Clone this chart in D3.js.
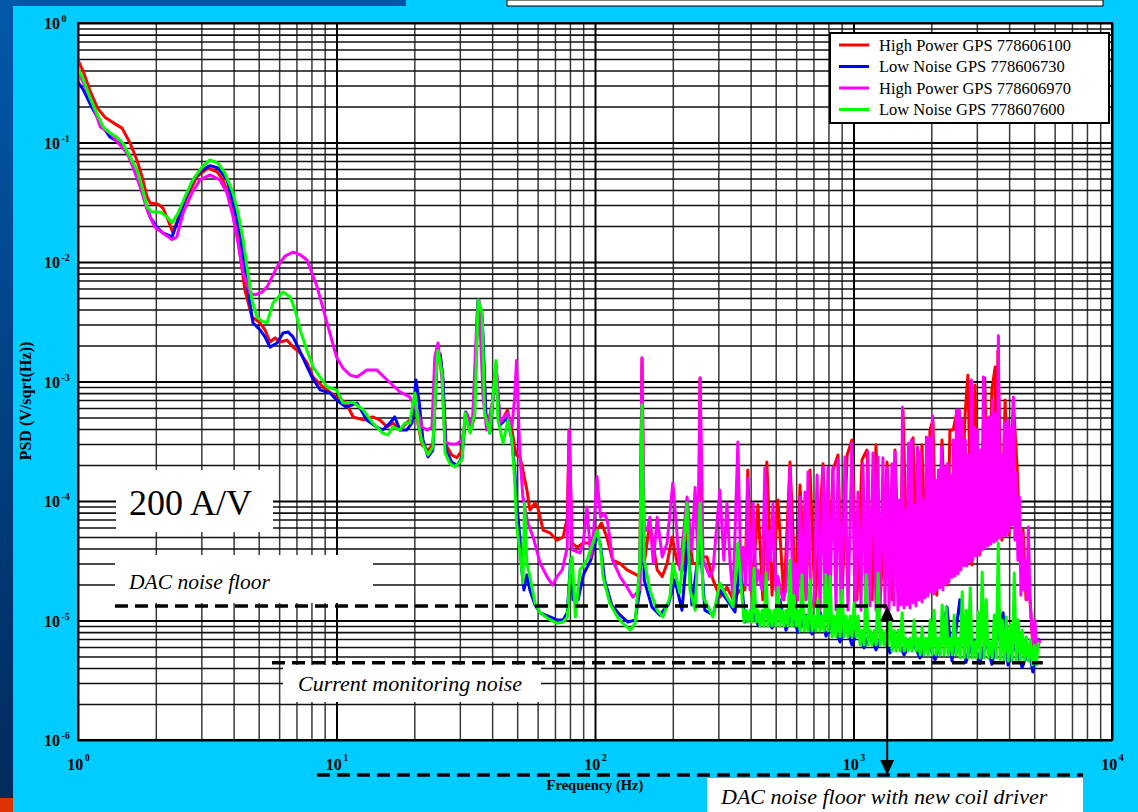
<!DOCTYPE html>
<html>
<head>
<meta charset="utf-8">
<script src="https://cdn.jsdelivr.net/npm/d3@7"></script>
<style>
  html, body { margin: 0; padding: 0; background: #00ccff; overflow: hidden; }
  svg { display: block; }
  text { font-family: "Liberation Serif", "Times New Roman", Times, serif; fill: #000; }
</style>
</head>
<body>
<svg id="chart" width="1138" height="812"></svg>
<script>
// PSD traces: [frequency (Hz), PSD (V/sqrt(Hz))]
var redHP1 = [
  [1.0,0.49],[1.05,0.39],[1.11,0.275],[1.19,0.194],[1.27,0.163],[1.37,0.146],[1.48,0.132],[1.59,0.099],
  [1.69,0.071],[1.77,0.0515],[1.85,0.035],[1.9,0.0312],[2.04,0.0305],[2.13,0.0283],[2.23,0.0225],[2.33,0.0175],
  [2.48,0.0257],[2.64,0.035],[2.88,0.0515],[3.18,0.0612],[3.45,0.0567],[3.64,0.0486],[3.87,0.033],[4.05,0.0225],
  [4.23,0.0119],[4.42,0.00584],[4.71,0.00347],[5.06,0.0031],[5.29,0.0027],[5.53,0.00214],[5.79,0.00232],[6.05,0.00214],
  [6.43,0.00222],[6.79,0.00194],[7.23,0.00174],[7.69,0.00143],[8.11,0.00109],[8.87,0.0009],[10.0,0.00074],[10.9,0.00066],
  [11.6,0.000505],[12.7,0.000477],[13.8,0.000505],[14.7,0.000477],[15.7,0.000416],[16.5,0.00045],[17.6,0.000393],[18.7,0.00045],
  [19.6,0.000496],[20.1,0.0007],[20.7,0.000433],[21.4,0.000295],[22.6,0.000267],[23.6,0.000295],[24.5,0.0015],[25.2,0.00167],
  [25.8,0.00102],[26.5,0.000295],[27.9,0.000243],[29.2,0.00023],[30.6,0.000267],[31.6,0.000525],[32.9,0.000393],[34.0,0.000477],
  [35.3,0.00463],[36.6,0.00327],[37.8,0.000525],[39.2,0.000393],[41.4,0.00137],[42.9,0.000433],[45.8,0.000577],[47.7,0.000393],
  [49.5,0.000243],[51.2,0.000234],[52.6,0.000182],[54.5,0.000124],[56.0,8.4e-5],[58.6,9.6e-5],[60.0,8.9e-5],[63.0,5.7e-5],
  [67.0,5.4e-5],[71.3,4.7e-5],[75.3,5.0e-5],[78.1,7.2e-5],[79.4,3.93e-4],[81.6,4.45e-5],[85.3,4.1e-5],[90.1,4.45e-5],
  [96.3,4.45e-5],[101.8,5.7e-5],[106,6.55e-5],[111,5.0e-5],[117,3.2e-5],[125,3.0e-5],[133,2.65e-5],[140,2.5e-5],
  [149,2.33e-5],[152,1.57e-3],[155,3.0e-5],[163,6.55e-5],[174,2.65e-5],[182,2.33e-5],[190,3.0e-5],[199,5.0e-5],
  [208,3.0e-5],[219,2.65e-5],[229,5.7e-5],[239,3.0e-5],[251,3.0e-5],[255,1.07e-3],[260,3.4e-5],[271,3.4e-5],
  [286,2.2e-5],[304,1.57e-5],[324,1.9e-5],[342,1.5e-5],[364,1.8e-5],
  [380,1.8e-5],[390,1.82e-4],[405,1.63e-5],[427,9.3e-5],[446,1.49e-5],[462,2.12e-4],[484,1.63e-5],[510,1.02e-4],
  [538,1.49e-5],[568,2.12e-4],[599,1.49e-5],[621,1.36e-4],[655,1.49e-5],[679,1.82e-4],[710,1.35e-5],[762,2.05e-4],
  [797,1.49e-5],[833,1.82e-4],[871,2.43e-4],[903,1.49e-5],[945,2.43e-4],[986,3.24e-4],[1031,1.49e-5],[1079,2.22e-4],
  [1127,2.67e-4],[1179,1.49e-5],[1222,2.95e-4],[1266,1.35e-5],[1348,2.12e-4],[1409,1.49e-5],[1447,2.67e-4],[1513,1.49e-5],
  [1554,5.77e-4],[1625,1.54e-5],[1699,3.38e-4],[1776,1.63e-5],[1840,2.95e-4],[1924,1.63e-5],[1976,3.93e-4],[2030,4.77e-4],
  [2100,1.63e-5],[2200,3.24e-4],[2300,1.98e-5],[2360,3.93e-4],[2430,3.93e-4],[2520,5.77e-4],[2580,2.65e-5],[2700,5.2e-4],
  [2770,1.13e-3],[2870,2.92e-5],[2950,9.35e-4],[3080,3.54e-5],[3220,1.07e-3],[3310,4.28e-5],[3430,8.5e-4],[3530,1.32e-3],
  [3560,4.7e-5],[3620,1.82e-3],[3750,4.7e-5],[3860,7.0e-4],[4000,5.2e-5],[4150,7.0e-4],[4300,1.82e-4],[4410,4.28e-5],
  [4530,5.7e-5],[4650,1.49e-5],[4810,1.57e-5],[4940,6.24e-6],[5120,5.9e-6],[5260,6.87e-6]
];

var blueLN1 = [
  [1.0,0.32],[1.05,0.275],[1.13,0.198],[1.22,0.146],[1.33,0.111],[1.45,0.099],[1.59,0.0756],[1.69,0.0555],
  [1.78,0.0378],[1.9,0.0238],[2.02,0.0196],[2.13,0.0175],[2.31,0.0162],[2.44,0.0225],[2.59,0.033],[2.78,0.0486],
  [3.02,0.0589],[3.24,0.064],[3.48,0.0612],[3.77,0.0486],[3.98,0.0312],[4.23,0.0175],[4.42,0.0091],[4.54,0.00584],
  [4.75,0.0031],[5.06,0.0027],[5.29,0.00236],[5.53,0.00194],[5.89,0.0021],[6.21,0.00255],[6.49,0.0026],[6.79,0.00236],
  [7.1,0.00194],[7.57,0.00143],[8.04,0.00109],[8.64,0.00085],[9.45,0.0008],[10.0,0.0007],[10.9,0.00061],[12.0,0.00066],
  [13.1,0.000477],[14.3,0.000416],[15.1,0.000393],[16.1,0.00045],[16.8,0.000505],[17.6,0.000393],[18.7,0.000393],[19.6,0.00045],
  [20.3,0.00103],[20.9,0.00066],[21.6,0.000324],[22.6,0.000234],[23.6,0.000267],[24.5,0.00182],[25.2,0.00167],[25.8,0.00107],
  [26.5,0.000267],[27.9,0.000212],[29.2,0.000199],[30.6,0.00023],[31.6,0.000555],[32.9,0.000378],[34.0,0.00052],[35.3,0.0048],
  [36.6,0.0036],[37.8,0.000545],[39.2,0.00037],[41.4,0.00137],[42.9,0.000433],[45.8,0.000496],[47.7,0.000324],[48.9,0.000182],
  [49.7,0.000102],[51.3,4.7e-5],[52.1,2.65e-5],[53.1,1.8e-5],[54.5,2.41e-5],[56.0,1.8e-5],[58.6,1.35e-5],[61.3,1.16e-5],
  [67.0,1.07e-5],[71.3,1.01e-5],[75.3,1.01e-5],[78.1,1.16e-5],[80.5,3.2e-5],[82.3,1.49e-5],[86.1,1.49e-5],[90.1,2.41e-5],
  [96.3,3.2e-5],[101.8,5.2e-5],[105,4.28e-5],[109,2.18e-5],[116,1.35e-5],[125,1.11e-5],[134,9.7e-6],[143,1.01e-5],
  [149,1.8e-5],[152,4.77e-4],[155,2.18e-5],[166,1.3e-5],[178,1.11e-5],[192,1.35e-5],[204,2.18e-5],[217,1.22e-5],
  [229,4.7e-5],[237,1.35e-5],[255,4.7e-5],[266,1.22e-5],[286,1.11e-5],[304,1.8e-5],[324,1.49e-5],[348,1.18e-5],
  [364,3.2e-5],
  [380,9.7e-6],[405,1.18e-5],[427,9.2e-6],[458,1.22e-5],[484,8.65e-6],[519,1.49e-5],[548,8.3e-6],[578,1.11e-5],
  [610,8.0e-6],[655,1.11e-5],[691,7.7e-6],[742,1.18e-5],[783,7.4e-6],[833,1.01e-5],[887,6.6e-6],[935,9.2e-6],
  [986,6.24e-6],[1041,8.3e-6],[1098,5.9e-6],[1158,8.0e-6],[1222,5.67e-6],[1300,7.6e-6],[1384,5.35e-6],[1473,7.1e-6],
  [1568,5.15e-6],[1684,6.87e-6],[1808,4.86e-6],[1941,6.6e-6],[2067,4.67e-6],[2180,6.87e-6],[2300,1.3e-5],[2405,4.58e-6],
  [2580,1.49e-5],[2720,4.45e-6],[2920,6.87e-6],[3080,4.37e-6],[3250,6.87e-6],[3430,4.3e-6],[3790,1.16e-5],[3960,4.24e-6],
  [4220,6.24e-6],[4490,4.05e-6],[4770,5.67e-6],[4940,3.7e-6],[5070,5.67e-6],[5220,7.1e-6]
];

var magentaHP2 = [
  [1.0,0.39],[1.05,0.315],[1.13,0.222],[1.22,0.135],[1.33,0.12],[1.43,0.099],[1.55,0.0817],[1.63,0.0624],
  [1.74,0.0424],[1.85,0.0273],[1.98,0.0196],[2.13,0.0175],[2.31,0.0154],[2.41,0.0162],[2.55,0.0257],[2.76,0.0378],
  [2.96,0.0486],[3.24,0.0535],[3.54,0.0486],[3.77,0.0378],[3.98,0.0238],[4.16,0.0144],[4.35,0.0081],[4.63,0.0055],
  [4.84,0.0053],[5.15,0.0056],[5.39,0.0062],[5.89,0.0091],[6.32,0.0112],[6.79,0.0121],[7.23,0.0115],[7.69,0.0104],
  [8.41,0.0062],[9.19,0.0031],[10.0,0.0016],[10.6,0.00129],[11.3,0.00113],[12.0,0.00109],[13.1,0.00125],[14.3,0.00125],
  [15.7,0.00103],[17.6,0.00082],[19.2,0.00074],[20.7,0.000545],[21.4,0.000416],[22.4,0.000393],[23.4,0.000416],[24.0,0.0016],
  [24.7,0.0021],[25.6,0.00103],[26.3,0.000312],[27.5,0.0003],[29.2,0.0003],[30.6,0.000324],[31.9,0.000545],[33.5,0.000416],
  [35.0,0.00375],[35.6,0.0048],[36.9,0.00074],[38.1,0.000393],[40.5,0.00074],[41.4,0.00143],[42.9,0.00045],[45.8,0.000545],
  [47.7,0.000416],[48.9,0.00074],[49.7,0.0015],[51.2,0.000252],[52.6,0.000108],[55.0,6.55e-5],[57.6,5.0e-5],[61.3,3.03e-5],
  [65.2,2.33e-5],[68.5,1.98e-5],[71.3,2.33e-5],[74.7,2.65e-5],[78.1,4.1e-5],[79.4,3.93e-4],[81.6,3.9e-5],[87.5,3.68e-5],
  [90.1,4.45e-5],[93.1,8.9e-5],[96.3,3.4e-5],[98.2,4.45e-5],[101.8,1.6e-4],[105,7.3e-5],[109,7.9e-5],[112,6.55e-5],
  [117,3.2e-5],[125,2.33e-5],[133,1.9e-5],[140,1.57e-5],[149,1.8e-5],[152,1.57e-3],[155,5.7e-5],[159,5.7e-5],
  [163,7.3e-5],[168,3.03e-5],[174,7.3e-5],[182,3.4e-5],[190,4.45e-5],[200,1.42e-4],[208,5.0e-5],[213,2.65e-5],
  [227,1.08e-4],[237,3.9e-5],[244,1.3e-4],[250,3.2e-5],[255,1.07e-3],[262,3.2e-5],[278,2.33e-5],[286,2.65e-5],
  [304,1.23e-4],[315,3.2e-5],[324,9.6e-5],[333,3.03e-5],
  [342,1.57e-5],[357,3.12e-4],[367,2.18e-5],[374,4.1e-5],[383,1.98e-5],[390,1.55e-4],[398,1.8e-5],[409,9.6e-5],
  [420,1.98e-5],[427,2.65e-5],[443,1.8e-5],[454,1.89e-4],[466,2.18e-5],[475,5.7e-5],[479,3.2e-5],[488,9.6e-5],
  [501,1.8e-5],[510,2.33e-5],[533,1.49e-5],[548,1.8e-5],[568,1.93e-4],[583,1.54e-5],[594,3.03e-5],[610,1.49e-5],
  [621,1.08e-4],[632,1.35e-5],[649,1.19e-4],[655,1.49e-5],[667,1.75e-4],[685,1.27e-5],[704,1.49e-5],[723,1.65e-4],
  [742,1.22e-5],[762,1.93e-4],[776,1.35e-5],[797,1.93e-4],[811,1.27e-5],[833,1.93e-4],[856,1.22e-5],[871,2.22e-4],
  [895,1.35e-5],[911,3.9e-5],[927,2.34e-4],[952,1.22e-5],[986,3.06e-4],[1013,1.35e-5],[1041,1.19e-4],[1069,1.22e-5],
  [1088,2.05e-4],[1118,1.27e-5],[1138,2.57e-4],[1158,1.32e-5],[1190,2.52e-4],[1222,1.22e-5],[1244,2.34e-4],[1266,1.22e-5],
  [1300,2.3e-4],[1324,1.27e-5],[1348,1.89e-4],[1372,1.22e-5],[1409,2.05e-4],[1435,1.35e-5],[1447,2.57e-4],
  [1486,1.22e-5],[1506,1.02e-4],[1526,1.35e-5],[1547,6.1e-4],[1568,1.27e-5],[1589,8.4e-5],[1610,1.35e-5],[1632,3.06e-4],
  [1654,1.27e-5],[1676,3.24e-4],[1698,1.4e-5],[1721,9.3e-5],[1744,1.32e-5],[1768,2.83e-4],[1791,1.49e-5],[1815,2.57e-4],
  [1840,1.43e-5],[1865,1.02e-4],[1890,1.54e-5],[1915,3.44e-4],[1941,1.6e-5],[1967,3.38e-4],[1993,1.74e-5],[2020,5.2e-4],
  [2047,1.67e-5],[2075,1.5e-4],[2103,1.8e-5],[2131,1.82e-4],[2160,1.88e-5],[2189,2.83e-4],[2218,1.8e-5],[2248,1.93e-4],
  [2278,2.02e-5],[2309,2.05e-4],[2340,2.1e-5],[2371,1.65e-4],[2403,2.29e-5],[2435,3.24e-4],[2468,2.36e-5],[2501,5.77e-4],
  [2535,2.45e-5],[2569,5.77e-4],[2603,2.65e-5],[2638,4.77e-4],[2674,2.86e-5],[2710,3.24e-4],[2746,2.86e-5],[2783,2.43e-4],
  [2820,3.1e-5],[2858,1.03e-3],[2897,3.2e-5],[2936,4.16e-4],[2975,3.47e-5],[3015,3.93e-4],[3056,3.54e-5],[3097,2.67e-4],
  [3138,3.9e-5],[3180,1.09e-3],[3223,4.03e-5],[3267,4.77e-4],[3311,4.2e-5],[3355,5.05e-4],[3400,4.37e-5],[3446,7.0e-4],
  [3492,4.54e-5],[3539,5.45e-4],[3587,4.7e-5],[3635,2.41e-3],[3684,4.9e-5],[3733,2.43e-4],[3784,5.1e-5],[3835,4.5e-4],
  [3886,5.1e-5],[3938,4.77e-4],[3991,5.5e-5],[4045,4.16e-4],[4099,6.3e-5],[4155,7.4e-4],[4211,4.7e-5],[4267,1.72e-4],
  [4325,3.2e-5],[4383,1.08e-4],[4442,1.63e-5],[4501,5.4e-5],[4562,1.8e-5],[4623,3.2e-5],[4685,1.49e-5],[4748,6.05e-5],
  [4812,1.57e-5],[4940,6.5e-6],[5030,1.01e-5],[5120,5.67e-6],[5260,6.87e-6]
];

var greenLN2 = [
  [1.0,0.42],[1.05,0.334],[1.11,0.241],[1.18,0.177],[1.25,0.135],[1.33,0.12],[1.41,0.111],[1.49,0.099],
  [1.59,0.0756],[1.69,0.0589],[1.77,0.0424],[1.85,0.0289],[1.93,0.0262],[2.08,0.0262],[2.21,0.0238],[2.31,0.0212],
  [2.44,0.0257],[2.59,0.035],[2.78,0.0486],[3.02,0.0624],[3.24,0.0714],[3.48,0.0673],[3.7,0.0555],[3.98,0.0378],
  [4.16,0.0257],[4.35,0.0154],[4.54,0.0081],[4.71,0.0048],[4.92,0.00347],[5.15,0.0032],[5.39,0.0031],[5.68,0.00455],
  [6.21,0.0056],[6.62,0.0051],[6.91,0.00397],[7.23,0.0027],[7.69,0.00182],[8.11,0.00132],[8.64,0.00109],[9.19,0.0009],
  [10.0,0.00085],[10.6,0.00066],[11.6,0.00067],[12.7,0.000577],[13.8,0.00045],[15.1,0.00037],[15.8,0.000357],[16.5,0.000416],
  [17.6,0.000393],[18.4,0.00045],[19.2,0.00045],[20.1,0.0008],[20.7,0.00045],[21.4,0.000312],[22.6,0.000243],[23.6,0.000283],
  [24.5,0.0016],[24.7,0.00182],[25.6,0.00118],[26.3,0.000252],[27.5,0.000205],[28.7,0.000193],[30.6,0.000222],[31.4,0.000545],
  [32.9,0.00037],[34.3,0.000545],[35.3,0.0048],[36.6,0.00375],[37.4,0.000545],[39.2,0.00037],[41.4,0.0015],[42.1,0.000477],
  [44.1,0.000306],[46.1,0.000477],[47.7,0.000324],[48.9,0.00015],[49.7,6.55e-5],[52.1,2.65e-5],[52.6,2.06e-5],[53.4,9.6e-5],
  [54.5,3.03e-5],[56.0,2.33e-5],[58.6,1.4e-5],[61.3,1.16e-5],[67.0,1.01e-5],[71.3,9.5e-6],[75.3,9.7e-6],[78.1,1.07e-5],
  [80.5,3.03e-5],[81.6,3.4e-5],[83.9,1.07e-5],[87.5,2.65e-5],[93.1,3.2e-5],[98.2,4.45e-5],[101.8,5.7e-5],[105,4.1e-5],
  [107.4,2.33e-5],[114,1.4e-5],[122,1.07e-5],[128,9.5e-6],[137,8.3e-6],[143,9.5e-6],[149,3.03e-5],[152,6.4e-4],
  [155,3.2e-5],[163,1.8e-5],[174,1.22e-5],[183,1.07e-5],[195,1.57e-5],[200,3.03e-5],[213,1.7e-5],[227,9.6e-5],
  [233,1.8e-5],[244,1.22e-5],[255,9.6e-5],[262,1.57e-5],[286,1.07e-5],[304,2.06e-5],[324,1.57e-5],[342,1.3e-5],
  [357,4.45e-5],
  [377,9.7e-6],[384,1.22e-5],[391,9.7e-6],[398,1.22e-5],[405,9.7e-6],[412,2.75e-5],[420,9.7e-6],[427,1.22e-5],
  [435,9.0e-6],[443,1.22e-5],[451,9.0e-6],[459,2.5e-5],[467,9.0e-6],[475,1.22e-5],[484,9.0e-6],[493,1.22e-5],
  [502,9.0e-6],[511,1.9e-5],[520,9.0e-6],[529,1.22e-5],[539,9.0e-6],[548,1.22e-5],[558,9.0e-6],[568,3.2e-5],
  [578,9.0e-6],[589,1.63e-5],[599,9.0e-6],[610,1.22e-5],[621,8.17e-6],[632,2.41e-5],[644,8.17e-6],[655,1.09e-5],
  [667,8.17e-6],[679,2.18e-5],[691,8.17e-6],[704,1.09e-5],[716,8.17e-6],[729,1.49e-5],[742,8.17e-6],[756,1.09e-5],
  [769,8.17e-6],[783,2.41e-5],[797,8.17e-6],[812,2.33e-5],[826,7.3e-6],[841,1.09e-5],[856,7.3e-6],[872,1.35e-5],
  [887,7.3e-6],[903,1.8e-5],[920,7.3e-6],[936,1.09e-5],[953,7.3e-6],[970,1.09e-5],[988,7.3e-6],[1005,1.4e-5],
  [1024,7.3e-6],[1042,1.09e-5],[1061,6.24e-6],[1080,8.3e-6],[1099,6.24e-6],[1119,2.41e-5],[1139,6.24e-6],[1160,8.3e-6],
  [1181,6.24e-6],[1202,8.3e-6],[1223,6.24e-6],[1245,2.5e-5],[1268,6.24e-6],[1291,8.3e-6],[1314,6.24e-6],[1337,8.3e-6],
  [1361,6.24e-6],[1386,1.11e-5],[1411,5.55e-6],[1436,8.3e-6],[1462,5.55e-6],[1488,8.3e-6],[1515,5.55e-6],[1542,1.16e-5],
  [1570,5.55e-6],[1598,7.1e-6],[1627,5.55e-6],[1656,7.1e-6],[1686,5.55e-6],[1716,1.01e-5],[1747,5.55e-6],[1779,7.1e-6],
  [1811,5.15e-6],[1843,8.8e-6],[1876,5.15e-6],[1910,7.1e-6],[1945,5.15e-6],[1980,1.01e-5],[2015,5.15e-6],[2051,1.22e-5],
  [2088,5.15e-6],[2126,7.1e-6],[2164,5.15e-6],[2203,1.35e-5],[2243,5.15e-6],[2283,1.3e-5],[2324,5.15e-6],[2366,7.1e-6],
  [2409,5.15e-6],[2452,1.11e-5],[2496,5.15e-6],[2541,7.1e-6],[2587,4.86e-6],[2633,1.74e-5],[2681,4.86e-6],[2729,1.22e-5],
  [2778,4.86e-6],[2828,1.88e-5],[2879,4.86e-6],[2931,6.6e-6],[2983,4.86e-6],[3037,1.18e-5],[3092,4.86e-6],[3147,2.55e-5],
  [3204,4.86e-6],[3262,1.49e-5],[3320,4.86e-6],[3380,6.6e-6],[3441,4.86e-6],[3503,1.11e-5],[3566,4.86e-6],[3630,4.45e-5],
  [3695,4.58e-6],[3762,1.01e-5],[3829,4.58e-6],[3898,1.07e-5],[3969,4.58e-6],[4040,9.2e-6],[4113,4.58e-6],[4187,2.5e-5],
  [4262,4.58e-6],[4339,1.01e-5],[4417,4.58e-6],[4497,8.3e-6],[4578,4.58e-6],[4660,7.3e-6],[4744,4.58e-6],[4829,6.87e-6],
  [4916,4.24e-6],[5005,6.24e-6],[5095,4.24e-6],[5187,6.6e-6]
];

var seriesNames = [
  "High Power GPS 778606100",
  "Low Noise GPS 778606730",
  "High Power GPS 778606970",
  "Low Noise GPS 778607600"
];
var seriesColors = ["#ff0000", "#0000ff", "#ff00ff", "#00ff00"];

var xDecades = [1, 10, 100, 1000, 10000];
var yDecades = [1, 1e-1, 1e-2, 1e-3, 1e-4, 1e-5, 1e-6];
var xTitle = "Frequency (Hz)";
var yTitle = "PSD (V/sqrt(Hz))";

// noise levels drawn as dashed lines: level, start and end frequency
var noiseLevels = [1.32e-5, 4.43e-6, 5.1e-7];
var noiseSpans = [[1.39, 1350], [5.63, 5400], [8.4, 7730]];
var noiseLabels = ["DAC noise floor", "Current monitoring noise", "DAC noise floor with new coil driver"];
var gainLabel = "200 A/V";

var svg = d3.select("#chart");

// slide background
var defs = svg.append("defs");
var grad = defs.append("linearGradient").attr("id", "side").attr("x1", 0).attr("y1", 0).attr("x2", 0).attr("y2", 1);
grad.append("stop").attr("offset", "0%").attr("stop-color", "#0058aa");
grad.append("stop").attr("offset", "100%").attr("stop-color", "#002a5c");

svg.append("rect").attr("width", 1138).attr("height", 812).attr("fill", "#00ccff");
svg.append("rect").attr("width", 406).attr("height", 6).attr("fill", "#0056a8");
svg.append("rect").attr("width", 13).attr("height", 812).attr("fill", "url(#side)");
svg.append("rect").attr("y", 798).attr("width", 13).attr("height", 14).attr("fill", "#dd3300");
svg.append("rect").attr("x", 507).attr("width", 596).attr("height", 6)
  .attr("fill", "#fff").attr("stroke", "#000").attr("stroke-width", 1);

// plot area
var x = d3.scaleLog().domain([1, 10000]).range([78, 1112]);
var y = d3.scaleLog().domain([1e-6, 1]).range([740, 23]);

svg.append("rect")
  .attr("x", x(1)).attr("y", y(1))
  .attr("width", x(10000) - x(1)).attr("height", y(1e-6) - y(1))
  .attr("fill", "#fff");

var xMinor = [], yMinor = [];
xDecades.slice(0, -1).forEach(function (d) {
  for (var k = 2; k <= 9; k++) xMinor.push(d * k);
});
yDecades.slice(1).forEach(function (d) {
  for (var k = 2; k <= 9; k++) yMinor.push(d * k);
});

function gridX(vals, color, width) {
  var g = svg.append("g")
    .attr("transform", "translate(0," + y(1e-6) + ")")
    .call(d3.axisBottom(x).tickValues(vals).tickSize(-(y(1e-6) - y(1))).tickFormat(""));
  g.select(".domain").remove();
  g.selectAll("line").attr("stroke", color).attr("stroke-width", width);
}
function gridY(vals, color, width) {
  var g = svg.append("g")
    .attr("transform", "translate(" + x(1) + ",0)")
    .call(d3.axisLeft(y).tickValues(vals).tickSize(-(x(10000) - x(1))).tickFormat(""));
  g.select(".domain").remove();
  g.selectAll("line").attr("stroke", color).attr("stroke-width", width);
}
gridX(xMinor, "#3a3a3a", 1.5);
gridY(yMinor, "#111", 1.6);
gridX(xDecades, "#000", 2);
gridY(yDecades, "#000", 2);

// annotation boxes inside the plot
svg.append("rect").attr("x", 116).attr("y", 470).attr("width", 157).attr("height", 62).attr("fill", "#fff");
svg.append("text").attr("x", 129).attr("y", 515).attr("font-size", 36).text(gainLabel);

svg.append("rect").attr("x", 115).attr("y", 555).attr("width", 258).attr("height", 48).attr("fill", "#fff");
svg.append("text").attr("x", 129).attr("y", 589).attr("font-size", 21.5)
  .attr("font-style", "italic").text(noiseLabels[0]);

svg.append("rect").attr("x", 283).attr("y", 665).attr("width", 258).attr("height", 37).attr("fill", "#fff");
svg.append("text").attr("x", 298).attr("y", 691).attr("font-size", 22)
  .attr("font-style", "italic").text(noiseLabels[1]);

// traces
var line = d3.line()
  .x(function (d) { return x(d[0]); })
  .y(function (d) { return y(d[1]); });

defs.append("clipPath").attr("id", "plotClip").append("rect")
  .attr("x", x(1)).attr("y", y(1))
  .attr("width", x(10000) - x(1)).attr("height", y(1e-6) - y(1));

var series = [redHP1, blueLN1, magentaHP2, greenLN2];
svg.append("g").attr("clip-path", "url(#plotClip)")
  .selectAll("path")
  .data(series)
  .enter()
  .append("path")
  .attr("d", line)
  .attr("fill", "none")
  .attr("stroke", function (d, i) { return seriesColors[i]; })
  .attr("stroke-width", 3)
  .attr("stroke-linejoin", "round");

// frame
svg.append("rect")
  .attr("x", x(1)).attr("y", y(1))
  .attr("width", x(10000) - x(1)).attr("height", y(1e-6) - y(1))
  .attr("fill", "none").attr("stroke", "#000").attr("stroke-width", 2);

// tick labels 10^n
var yAxisG = svg.append("g")
  .attr("transform", "translate(" + x(1) + ",0)")
  .call(d3.axisLeft(y).tickValues(yDecades).tickSize(0).tickFormat(""));
yAxisG.select(".domain").remove();
yAxisG.selectAll(".tick text").each(function (d) {
  var t = d3.select(this)
    .attr("x", -34).attr("dy", null).attr("y", 5.5)
    .attr("text-anchor", "start")
    .attr("font-family", null).attr("font-size", null)
    .attr("font-weight", "bold").style("font-size", "16px");
  t.append("tspan").text("10");
  t.append("tspan").attr("dy", -7).attr("dx", 1.5).style("font-size", "10px")
    .text(Math.round(Math.log10(d)));
});

var xAxisG = svg.append("g")
  .attr("transform", "translate(0," + y(1e-6) + ")")
  .call(d3.axisBottom(x).tickValues(xDecades).tickSize(0).tickFormat(""));
xAxisG.select(".domain").remove();
xAxisG.selectAll(".tick text").each(function (d) {
  var t = d3.select(this)
    .attr("y", 30).attr("dy", null)
    .attr("text-anchor", "middle")
    .attr("font-family", null).attr("font-size", null)
    .attr("font-weight", "bold").style("font-size", "16px");
  t.append("tspan").text("10");
  t.append("tspan").attr("dy", -9).attr("dx", 1.5).style("font-size", "10px")
    .text(Math.round(Math.log10(d)));
});

svg.append("text")
  .attr("x", (x(1) + x(10000)) / 2).attr("y", 790)
  .attr("text-anchor", "middle").attr("font-weight", "bold").attr("font-size", 14.5)
  .text(xTitle);

svg.append("text")
  .attr("transform", "translate(31,401) rotate(-90)")
  .attr("text-anchor", "middle").attr("font-weight", "bold").attr("font-size", 16)
  .text(yTitle);

// legend
var legend = svg.append("g").attr("transform", "translate(830,33)");
legend.append("rect").attr("width", 279).attr("height", 90)
  .attr("fill", "#fff").attr("stroke", "#000").attr("stroke-width", 2);
var items = legend.selectAll("g.item").data(seriesNames).enter().append("g")
  .attr("class", "item")
  .attr("transform", function (d, i) { return "translate(0," + (12 + i * 21.5) + ")"; });
items.append("line").attr("x1", 9).attr("x2", 39)
  .attr("stroke", function (d, i) { return seriesColors[i]; }).attr("stroke-width", 3);
items.append("text").attr("x", 49).attr("y", 5.5).attr("font-size", 16.5)
  .text(function (d) { return d; });

// dashed noise levels
svg.append("g").selectAll("line")
  .data(noiseLevels)
  .enter()
  .append("line")
  .attr("x1", function (d, i) { return x(noiseSpans[i][0]); })
  .attr("x2", function (d, i) { return x(noiseSpans[i][1]); })
  .attr("y1", function (d) { return y(d); })
  .attr("y2", function (d) { return y(d); })
  .attr("stroke", "#000").attr("stroke-width", 3.5)
  .attr("stroke-dasharray", "13,7");

// arrow from the DAC floor down to the new coil driver floor
var ax = x(noiseSpans[0][1]);
var aTop = y(noiseLevels[0]);
var aBot = y(noiseLevels[2]);
svg.append("line").attr("x1", ax).attr("x2", ax).attr("y1", aTop + 12).attr("y2", aBot - 12)
  .attr("stroke", "#000").attr("stroke-width", 2);
svg.append("path")
  .attr("d", "M" + ax + "," + aTop + "L" + (ax - 7) + "," + (aTop + 15) + "L" + (ax + 7) + "," + (aTop + 15) + "Z")
  .attr("fill", "#000");
svg.append("path")
  .attr("d", "M" + ax + "," + aBot + "L" + (ax - 7) + "," + (aBot - 15) + "L" + (ax + 7) + "," + (aBot - 15) + "Z")
  .attr("fill", "#000");

// label below the axis
svg.append("rect").attr("x", 707).attr("y", 778).attr("width", 376).attr("height", 34).attr("fill", "#fff");
svg.append("text").attr("x", 721).attr("y", 804).attr("font-size", 22)
  .attr("font-style", "italic").text(noiseLabels[2]);
</script>
</body>
</html>
